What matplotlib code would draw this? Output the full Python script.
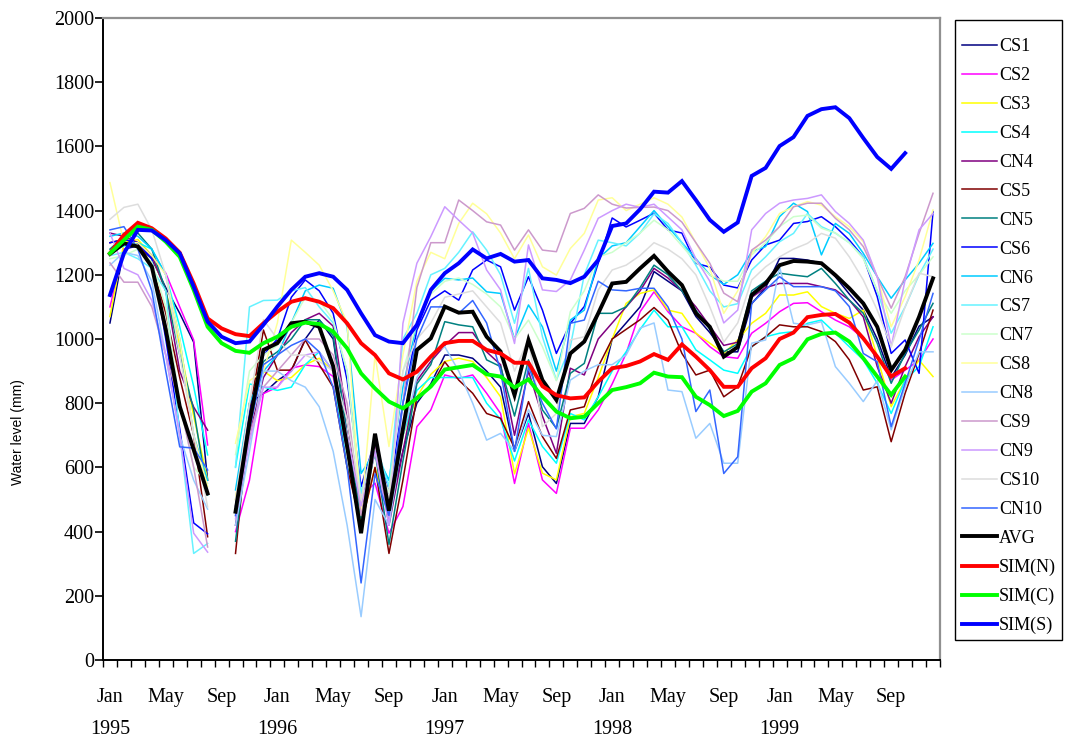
import matplotlib
matplotlib.use('Agg')
import matplotlib.pyplot as plt
from matplotlib.patches import Rectangle
import numpy as np

nan = np.nan

# months Jan 1995 .. Dec 1999
month_labels = ['Jan', 'May', 'Sep'] * 5
years = ['1995', '1996', '1997', '1998', '1999']

names = ['CS1', 'CS2', 'CS3', 'CS4', 'CN4', 'CS5', 'CN5', 'CS6', 'CN6', 'CS7',
         'CN7', 'CS8', 'CN8', 'CS9', 'CN9', 'CS10', 'CN10']
colors = ['#000080', '#FF00FF', '#FFFF00', '#00FFFF', '#800080', '#800000', '#008080',
          '#0000FF', '#00CCFF', '#66F2FF', '#CCFFCC', '#FFFF99', '#99CCFF', '#CC99CC',
          '#CC99FF', '#DDDDDD', '#3366FF']

CS1 = [1050, 1280, 1290, 1250, 1160, 1080, 990, 560, nan, 470, 800, 830,
       870, 900, 1000, 1060, 1000, 700, 460, 700, 470, 650, 800, 860,
       950, 950, 940, 900, 850, 650, 768, 602, 550, 737, 737, 820,
       1000, 1050, 1100, 1210, 1180, 1150, 1070, 1020, 960, 960, 1110, 1160,
       1251, 1251, 1246, 1236, 1194, 1140, 1090, 1000, 880, 950, 1040, 1069]
CS2 = [1100, 1280, 1300, 1260, 1205, 1100, 997, 670, nan, 400, 560, 830,
       850, 909, 919, 914, 883, 650, 509, 551, 395, 478, 727, 779,
       888, 877, 888, 831, 768, 550, 737, 561, 519, 722, 722, 779,
       860, 955, 1085, 1147, 1085, 1038, 1018, 976, 945, 940, 1018, 1049,
       1085, 1111, 1113, 1085, 1059, 1038, 1002, 945, 872, 903, 934, 1000]
CS3 = [1070, 1300, 1310, 1260, 1150, 980, 760, 561, nan, 500, 800, 900,
       870, 880, 920, 940, 900, 700, 420, 600, 450, 700, 820, 890,
       930, 940, 930, 880, 820, 580, 722, 582, 561, 758, 768, 880,
       1000, 1111, 1142, 1153, 1090, 1080, 1018, 987, 955, 997, 1049, 1080,
       1137, 1137, 1147, 1101, 1080, 1064, 1090, 945, 789, 872, 934, 883]
CS4 = [1270, 1290, 1300, 1280, 1200, 1038, 852, 639, nan, 602, 860, 850,
       840, 850, 920, 960, 900, 600, 520, 640, 560, 700, 840, 880,
       880, 880, 880, 800, 750, 620, 748, 665, 613, 768, 748, 820,
       900, 960, 1030, 1090, 1038, 1038, 966, 935, 903, 893, 976, 1007,
       1018, 1023, 1049, 1059, 1018, 976, 935, 862, 768, 872, 914, 1038]
CN4 = [1330, 1320, 1300, 1260, 1150, 900, 788, 716, nan, 420, 700, 880,
       950, 1020, 1060, 1080, 1040, 750, 470, 680, 420, 650, 870, 930,
       980, 1020, 1020, 960, 920, 700, 900, 760, 644, 909, 888, 1000,
       1050, 1100, 1150, 1220, 1190, 1150, 1100, 1040, 980, 990, 1130, 1160,
       1173, 1173, 1173, 1163, 1153, 1121, 1069, 914, 800, 914, 1007, 1069]
CS5 = [1300, 1310, 1300, 1230, 1080, 880, 700, 384, nan, 332, 768, 1028,
       903, 903, 997, 920, 850, 600, 420, 600, 332, 560, 820, 850,
       929, 872, 831, 768, 753, 660, 805, 696, 628, 779, 789, 914,
       1000, 1030, 1060, 1098, 1059, 955, 888, 903, 820, 851, 976, 1007,
       1044, 1038, 1038, 1023, 992, 935, 841, 851, 680, 831, 955, 1090]
CN5 = [1280, 1320, 1330, 1280, 1150, 950, 780, 514, nan, 370, 720, 930,
       960, 1000, 1060, 1060, 1010, 700, 440, 650, 360, 620, 860, 920,
       1054, 1044, 1038, 935, 914, 760, 935, 779, 722, 893, 924, 1080,
       1080, 1100, 1160, 1230, 1200, 1150, 1090, 1030, 960, 985, 1150, 1180,
       1205, 1199, 1194, 1220, 1173, 1121, 1080, 986, 862, 955, 1028, 1111]
CS6 = [1300, 1310, 1300, 1250, 1000, 720, 427, 393, nan, 480, 770, 950,
       1000, 1130, 1184, 1150, 1080, 872, 540, 685, 519, 800, 1028, 1121,
       1150, 1121, 1215, 1246, 1225, 1090, 1194, 1090, 955, 1049, 1101, 1236,
       1377, 1349, 1370, 1392, 1340, 1330, 1236, 1224, 1168, 1159, 1246, 1293,
       1308, 1360, 1366, 1381, 1350, 1308, 1256, 1132, 955, 997, 893, 1397]
CN6 = [1320, 1330, 1320, 1280, 1200, 1000, 700, 560, nan, 530, 800, 900,
       950, 1050, 1150, 1168, 1158, 1038, 581, 650, 560, 850, 1050, 1150,
       1189, 1184, 1190, 1147, 1142, 1000, 1106, 1038, 900, 1059, 1090, 1250,
       1290, 1300, 1350, 1400, 1350, 1300, 1250, 1200, 1170, 1200, 1272, 1288,
       1381, 1423, 1397, 1262, 1360, 1329, 1267, 1194, 1127, 1184, 1236, 1298]
CS7 = [1260, 1270, 1250, 1220, 1150, 700, 332, 363, nan, 600, 1100, 1120,
       1121, 1150, 1160, 1100, 1050, 900, 520, 680, 540, 1000, 1080, 1200,
       1220, 1270, 1334, 1277, 1200, 1049, 1220, 1007, 872, 976, 1200, 1308,
       1300, 1290, 1330, 1390, 1360, 1300, 1230, 1150, 1100, 1110, 1215, 1256,
       1303, 1329, 1391, 1350, 1330, 1300, 1256, 1150, 1018, 1100, 1200, 1280]
CN7 = [1250, 1260, 1280, 1240, 1100, 800, 600, 550, nan, 640, 900, 950,
       980, 1050, 1130, 1120, 1060, 900, 480, 650, 520, 900, 1050, 1140,
       1180, 1190, 1170, 1140, 1100, 1000, 1059, 976, 870, 1085, 1150, 1256,
       1270, 1300, 1330, 1370, 1340, 1290, 1240, 1200, 1180, 1180, 1262, 1300,
       1350, 1381, 1386, 1345, 1330, 1300, 1250, 1150, 1080, 1150, 1200, 1256]
CS8 = [1487, 1300, 1300, 1260, 1200, 1000, 700, 540, nan, 675, 870, 900,
       1050, 1308, 1270, 1230, 1150, 1050, 450, 950, 665, 950, 1180, 1270,
       1250, 1360, 1423, 1390, 1330, 1250, 1324, 1225, 1199, 1282, 1329, 1433,
       1440, 1400, 1420, 1440, 1420, 1380, 1300, 1220, 1080, 1150, 1267, 1319,
       1391, 1412, 1428, 1417, 1381, 1350, 1303, 1194, 1038, 1132, 1246, 1402]
CN8 = [1230, 1270, 1260, 1180, 950, 700, 560, 470, nan, 420, 650, 900,
       900, 870, 850, 789, 650, 420, 135, 500, 420, 700, 880, 950,
       976, 900, 800, 685, 706, 650, 780, 700, 696, 872, 900, 920,
       920, 950, 1034, 1050, 841, 836, 691, 737, 613, 613, 987, 997,
       1225, 1049, 1044, 1054, 914, 862, 805, 870, 717, 850, 960, 960]
CS9 = [1237, 1177, 1177, 1100, 950, 800, 600, 352, nan, 450, 700, 850,
       900, 950, 1000, 1000, 950, 800, 450, 650, 450, 800, 1160, 1300,
       1300, 1433, 1400, 1365, 1355, 1277, 1340, 1277, 1272, 1391, 1407, 1449,
       1420, 1408, 1410, 1411, 1400, 1364, 1300, 1236, 1143, 1116, 1277, 1308,
       1350, 1412, 1423, 1423, 1376, 1340, 1288, 1194, 1096, 1194, 1329, 1454]
CN9 = [1330, 1220, 1200, 1120, 950, 700, 395, 336, nan, 440, 680, 850,
       850, 900, 950, 960, 900, 700, 480, 650, 420, 1049, 1236, 1319,
       1412, 1370, 1330, 1215, 1153, 986, 1293, 1153, 1148, 1184, 1277, 1376,
       1400, 1420, 1410, 1420, 1380, 1340, 1250, 1180, 1050, 1090, 1340, 1391,
       1423, 1433, 1438, 1449, 1397, 1360, 1308, 1194, 976, 1184, 1340, 1391]
CS10 = [1373, 1410, 1420, 1340, 1200, 950, 700, 477, nan, 500, 800, 1060,
        1000, 950, 950, 930, 900, 750, 500, 700, 500, 900, 1000, 1050,
        1130, 1140, 1150, 1100, 1050, 900, 1000, 727, 768, 997, 1007, 1153,
        1215, 1230, 1260, 1300, 1280, 1250, 1200, 1100, 990, 1050, 1184, 1225,
        1256, 1280, 1298, 1329, 1314, 1256, 1184, 1090, 976, 1100, 1205, 1194]
CN10 = [1340, 1350, 1280, 1150, 900, 664, 660, 592, nan, 450, 720, 920,
        950, 980, 1000, 960, 850, 600, 240, 580, 450, 800, 1000, 1100,
        1100, 1080, 1120, 1050, 900, 650, 914, 800, 720, 1049, 1059, 1180,
        1153, 1150, 1158, 1158, 1100, 1000, 774, 841, 581, 633, 1111, 1153,
        1194, 1163, 1163, 1163, 1150, 1101, 955, 929, 727, 862, 997, 1142]

AVG = [1265, 1298, 1288, 1225, 1030, 790, 655, 519, nan, 462, 740, 966,
       987, 1049, 1054, 1038, 915, 665, 395, 705, 465, 720, 966, 1002,
       1101, 1082, 1085, 1007, 961, 825, 997, 872, 810, 955, 992, 1080,
       1173, 1178, 1220, 1259, 1210, 1168, 1080, 1038, 945, 975, 1137, 1173,
       1230, 1243, 1241, 1236, 1199, 1158, 1111, 1038, 903, 966, 1069, 1189]
SIM_N = [1267, 1324, 1362, 1345, 1313, 1269, 1173, 1064, 1033, 1015, 1009, 1049,
         1085, 1116, 1127, 1116, 1096, 1049, 987, 950, 893, 874, 898, 945,
         987, 994, 994, 966, 955, 926, 926, 853, 825, 815, 818, 867,
         909, 916, 930, 953, 935, 983, 945, 903, 851, 851, 909, 940,
         1000, 1020, 1068, 1075, 1078, 1051, 1002, 945, 883, 909, nan, nan]
SIM_C = [1267, 1308, 1350, 1340, 1303, 1256, 1153, 1038, 987, 963, 957, 987,
         1007, 1038, 1051, 1047, 1023, 971, 893, 846, 805, 784, 815, 852,
         905, 912, 919, 890, 883, 849, 874, 820, 774, 753, 758, 800,
         841, 850, 862, 895, 883, 881, 820, 794, 760, 776, 836, 862,
         919, 940, 999, 1016, 1020, 992, 940, 883, 826, 883, nan, nan]
SIM_S = [1137, 1267, 1340, 1338, 1308, 1267, 1163, 1054, 1007, 987, 992, 1044,
         1101, 1153, 1194, 1205, 1194, 1153, 1080, 1012, 992, 987, 1044, 1153,
         1205, 1236, 1279, 1251, 1265, 1241, 1246, 1189, 1184, 1174, 1194, 1246,
         1352, 1360, 1404, 1459, 1456, 1492, 1433, 1371, 1334, 1363, 1508, 1533,
         1601, 1629, 1695, 1716, 1722, 1688, 1626, 1567, 1530, 1579, nan, nan]

thin = [CS1, CS2, CS3, CS4, CN4, CS5, CN5, CS6, CN6, CS7,
        CN7, CS8, CN8, CS9, CN9, CS10, CN10]

plt.rcParams['font.family'] = ['Liberation Serif', 'DejaVu Serif']

fig = plt.figure(figsize=(10.66, 7.40), dpi=100)
ax = fig.add_axes([103 / 1066, 1 - 660 / 740, 837 / 1066, 642 / 740])

x = np.arange(60)
handles = []
for name, c, s in zip(names, colors, thin):
    h, = ax.plot(x, s, color=c, lw=1.1, label=name)
    handles.append(h)
for name, c, s in [('AVG', 'black', AVG), ('SIM(N)', '#FF0000', SIM_N),
                   ('SIM(C)', '#00FF00', SIM_C), ('SIM(S)', '#0000FF', SIM_S)]:
    h, = ax.plot(x, s, color=c, lw=2.8, label=name, solid_joinstyle='miter')
    handles.append(h)

ax.set_xlim(-0.5, 59.5)
ax.set_ylim(0, 2000)
ax.set_yticks(range(0, 2001, 200))
ax.tick_params(axis='y', direction='out', length=6, width=1.2, labelsize=14.5, pad=0.5)

ax.set_xticks(np.arange(-0.5, 60, 1))
ax.set_xticklabels([])
ax.tick_params(axis='x', which='major', direction='out', length=5, width=1.0)
ax.set_xticks(np.arange(0, 60, 4), minor=True)
ax.set_xticklabels(month_labels, minor=True)
ax.tick_params(axis='x', which='minor', length=0, labelsize=14.5, pad=20)

for k, yr in enumerate(years):
    ax.text(12 * k, -0.108, yr, transform=ax.get_xaxis_transform(),
            ha='center', va='center', fontsize=14.5)

for side in ['left', 'bottom']:
    ax.spines[side].set_color('black')
    ax.spines[side].set_linewidth(1.4)
for side in ['top', 'right']:
    ax.spines[side].set_color('#909090')
    ax.spines[side].set_linewidth(1.6)

fig.text(18 / 1066, 1 - 432 / 740, 'Water level (mm)', rotation=90,
         ha='center', va='center', fontsize=10, family=['Liberation Sans', 'DejaVu Sans'])

# legend box drawn separately so the entries can sit lower inside it
fig.patches.append(Rectangle((955 / 1066, 1 - 640 / 740), 107 / 1066, 620 / 740,
                             transform=fig.transFigure, fill=False,
                             edgecolor='black', lw=1.0))
leg = fig.legend(handles=handles, loc='upper left',
                 bbox_to_anchor=(955 / 1066, 1 - 31 / 740),
                 fontsize=13, frameon=False, handlelength=1.9,
                 labelspacing=0.66, borderpad=0.4, handletextpad=0.15,
                 borderaxespad=0)

fig.savefig('out.png', dpi=100)
